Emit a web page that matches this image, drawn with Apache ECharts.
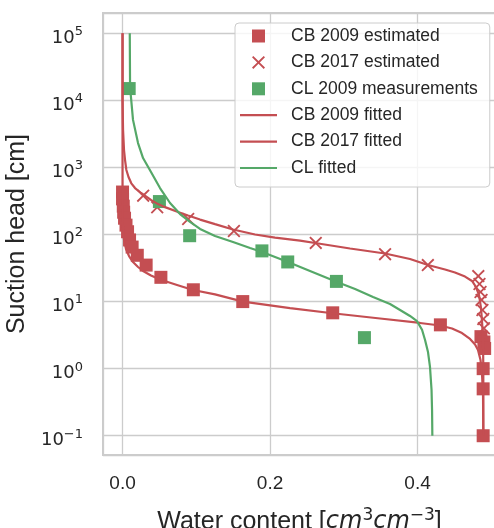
<!DOCTYPE html>
<html><head><meta charset="utf-8">
<script src="https://cdn.jsdelivr.net/npm/echarts@6/dist/echarts.min.js"></script>
<style>html,body{margin:0;padding:0;background:#fff}#c{width:494px;height:528px}</style>
</head><body><div id="c"></div>
<script>
// ---- tick labels ----
const xTicks = [0.0, 0.2, 0.4];
const yTickExps = [-1, 0, 1, 2, 3, 4, 5];

// ---- CB 2009 estimated (squares) ----
const cb2009EstTheta = [0.000, 0.000, 0.001, 0.0015, 0.0027, 0.0047, 0.0068, 0.0095, 0.013, 0.020, 0.032, 0.052, 0.096, 0.163, 0.285, 0.431, 0.486, 0.490, 0.491, 0.489, 0.489, 0.489];
const cb2009EstHead  = [430, 340, 265, 215, 175, 138, 110, 83, 65, 49, 35, 23, 15, 10, 6.8, 4.5, 3.0, 2.5, 2.0, 1.0, 0.5, 0.1];

// ---- CB 2017 estimated (crosses) ----
const cb2017EstTheta = [0.028, 0.047, 0.089, 0.151, 0.262, 0.356, 0.414, 0.4824, 0.484, 0.4854, 0.4868, 0.488, 0.4892, 0.490];
const cb2017EstHead  = [380, 255, 170, 113, 75, 51, 35, 24, 18.3, 13.9, 10.6, 7.5, 5.5, 4.0];

// ---- CL 2009 measurements (green squares) ----
const cl2009Theta = [0.009, 0.050, 0.091, 0.189, 0.224, 0.290, 0.328];
const cl2009Head  = [15000, 310, 96, 57, 39, 20, 2.9];

// ---- CB 2009 fitted ----
const cb2009FitTheta = [0.0, 0.0, 0.0, 0.0004, 0.002, 0.0047, 0.0088, 0.0142, 0.021, 0.0278, 0.0386, 0.0508, 0.0739, 0.0956, 0.1254, 0.1634, 0.2271, 0.2847, 0.3492, 0.4034, 0.4305, 0.4468, 0.4603, 0.4712, 0.478, 0.482, 0.4854, 0.4875, 0.4888, 0.4892];
const cb2009FitHead  = [100000, 1820, 327, 139, 82.8, 60.8, 47.8, 38.9, 32.8, 28.6, 24.5, 21.3, 17.7, 14.9, 12.8, 10.0, 8.0, 6.7, 5.6, 4.8, 4.4, 3.97, 3.4, 2.77, 2.29, 1.9, 1.35, 0.80, 0.40, 0.1];

// ---- CB 2017 fitted ----
const cb2017FitTheta = [0.0, 0.0, 0.0007, 0.002, 0.0034, 0.0052, 0.0081, 0.0119, 0.0169, 0.0251, 0.0332, 0.039, 0.0481, 0.0576, 0.0753, 0.0888, 0.1051, 0.1254, 0.1498, 0.1797, 0.2068, 0.2407, 0.2633, 0.3085, 0.3559, 0.3898, 0.4142, 0.4373, 0.4508, 0.4644, 0.4739, 0.4793, 0.4834, 0.4861, 0.4875, 0.4888, 0.4892, 0.4892];
const cb2017FitHead  = [100000, 10100, 3610, 1820, 1290, 916, 720, 580, 493, 416, 362, 326, 284, 256, 216, 192, 167, 143, 119, 100, 90, 81, 74, 61.8, 52.1, 43.1, 35.1, 30.1, 27.1, 23.6, 20.3, 16.5, 12.5, 8.0, 4.95, 2.67, 0.95, 0.1];

// ---- CL fitted ----
const clFitTheta = [0.0098, 0.0102, 0.0142, 0.0210, 0.0278, 0.0386, 0.0508, 0.0644, 0.0780, 0.0915, 0.1051, 0.1254, 0.1498, 0.1729, 0.1892, 0.2244, 0.2542, 0.2908, 0.3153, 0.3397, 0.3627, 0.3763, 0.3898, 0.3993, 0.4061, 0.4102, 0.4142, 0.4169, 0.4190, 0.4197, 0.4201];
const clFitHead  = [100000, 15800, 5120, 2310, 1380, 855, 493, 295, 202, 154, 121, 95, 77.4, 63, 54.9, 38.9, 28.6, 19.6, 15.4, 11.7, 9.2, 7.5, 6.1, 5.1, 3.8, 2.68, 1.77, 1.06, 0.48, 0.24, 0.1];

const RED = '#c44e52', GREEN = '#55a868', TXT = '#262626', GRID = '#cccccc';
const zip = (a, b) => a.map((v, i) => [v, b[i]]);
const XMARK = 'path://M0,1.2L1.2,0L6,4.8L10.8,0L12,1.2L7.2,6L12,10.8L10.8,12L6,7.2L1.2,12L0,10.8L4.8,6Z';
const SQUARE = 'path://M0,0L10,0L10,10L0,10Z';
const LINEICON = 'path://M0,0L37,0L37,2.2L0,2.2Z';

const chart = echarts.init(document.getElementById('c'), null, {renderer: 'canvas'});
chart.setOption({
  animation: false,
  backgroundColor: '#ffffff',
  grid: {left: 103, top: 13, width: 393, height: 442, containLabel: false, outerBoundsMode: 'none',
         show: true, borderColor: GRID, borderWidth: 2, backgroundColor: 'transparent'},
  xAxis: {
    type: 'value', min: -0.0265, max: 0.5064, splitNumber: 3,
    name: '{a|Water content [}{i|cm}{s|3}{i|cm}{s|\u22123}{a|]}',
    nameLocation: 'middle', nameGap: 52,
    nameTextStyle: {
      rich: {
        a: {fontFamily: 'Liberation Sans', fontSize: 25, color: TXT, lineHeight: 30},
        i: {fontFamily: 'DejaVu Sans', fontStyle: 'italic', fontSize: 24, color: TXT, lineHeight: 30},
        s: {fontFamily: 'DejaVu Sans', fontSize: 17, color: TXT, verticalAlign: 'top', lineHeight: 18}
      }
    },
    axisLine: {show: false},
    axisTick: {show: false},
    splitLine: {show: true, lineStyle: {color: GRID, width: 1.3}},
    axisLabel: {
      margin: 19, color: TXT, fontFamily: 'Liberation Sans', fontSize: 19,
      formatter: v => xTicks.some(t => Math.abs(t - v) < 1e-9) ? v.toFixed(1) : ''
    }
  },
  yAxis: {
    type: 'log', logBase: 10, min: 0.0516, max: 200800,
    name: 'Suction head [cm]', nameLocation: 'middle', nameGap: 67,
    nameTextStyle: {fontFamily: 'Liberation Sans', fontSize: 25, color: TXT},
    axisLine: {show: false},
    axisTick: {show: false},
    minorTick: {show: false},
    splitLine: {show: true, lineStyle: {color: GRID, width: 1.3}},
    axisLabel: {
      margin: 20,
      formatter: v => {
        const l = Math.log10(v), e = Math.round(l);
        if (Math.abs(l - e) > 1e-6 || !yTickExps.includes(e)) return '';
        return '{b|10}{s|' + (e < 0 ? '\u2212' + (-e) : e) + '}';
      },
      rich: {
        b: {fontFamily: 'DejaVu Sans', fontSize: 18, color: TXT, lineHeight: 24, padding: [10, 0, 0, 0]},
        s: {fontFamily: 'DejaVu Sans', fontSize: 13, color: TXT, verticalAlign: 'top', lineHeight: 14, padding: [4, 0, 0, 0]}
      }
    }
  },
  legend: {
    orient: 'vertical', left: 235, top: 23,
    symbolKeepAspect: true,
    data: [
      {name: 'CB 2009 estimated', icon: SQUARE},
      {name: 'CB 2017 estimated', icon: XMARK},
      {name: 'CL 2009 measurements', icon: SQUARE},
      {name: 'CB 2009 fitted', icon: LINEICON},
      {name: 'CB 2017 fitted', icon: LINEICON},
      {name: 'CL fitted', icon: LINEICON}
    ],
    itemWidth: 37, itemHeight: 13, itemGap: 6.4,
    padding: [3, 12, 9, 5],
    backgroundColor: 'rgba(255,255,255,0.8)', borderColor: GRID, borderWidth: 1, borderRadius: 4,
    textStyle: {fontFamily: 'Liberation Sans', fontSize: 17.5, color: TXT, lineHeight: 20, padding: [0, 0, 0, 9]}
  },
  series: [
    {type: 'scatter', name: 'CB 2009 estimated', data: zip(cb2009EstTheta, cb2009EstHead), symbol: 'rect', symbolSize: 13, itemStyle: {color: RED, opacity: 1}, z: 2},
    {type: 'scatter', name: 'CB 2017 estimated', data: zip(cb2017EstTheta, cb2017EstHead), symbol: XMARK, symbolSize: 13, itemStyle: {color: RED, opacity: 1}, z: 2},
    {type: 'scatter', name: 'CL 2009 measurements', data: zip(cl2009Theta, cl2009Head), symbol: 'rect', symbolSize: 13, itemStyle: {color: GREEN, opacity: 1}, z: 2},
    {type: 'line', name: 'CB 2009 fitted', data: zip(cb2009FitTheta, cb2009FitHead), symbol: 'none', showSymbol: false, lineStyle: {color: RED, width: 2.2}, itemStyle: {color: RED}, z: 3},
    {type: 'line', name: 'CB 2017 fitted', data: zip(cb2017FitTheta, cb2017FitHead), symbol: 'none', showSymbol: false, lineStyle: {color: RED, width: 2.2}, itemStyle: {color: RED}, z: 3},
    {type: 'line', name: 'CL fitted', data: zip(clFitTheta, clFitHead), symbol: 'none', showSymbol: false, lineStyle: {color: GREEN, width: 2.2}, itemStyle: {color: GREEN}, z: 3}
  ]
});
</script>
</body></html>
